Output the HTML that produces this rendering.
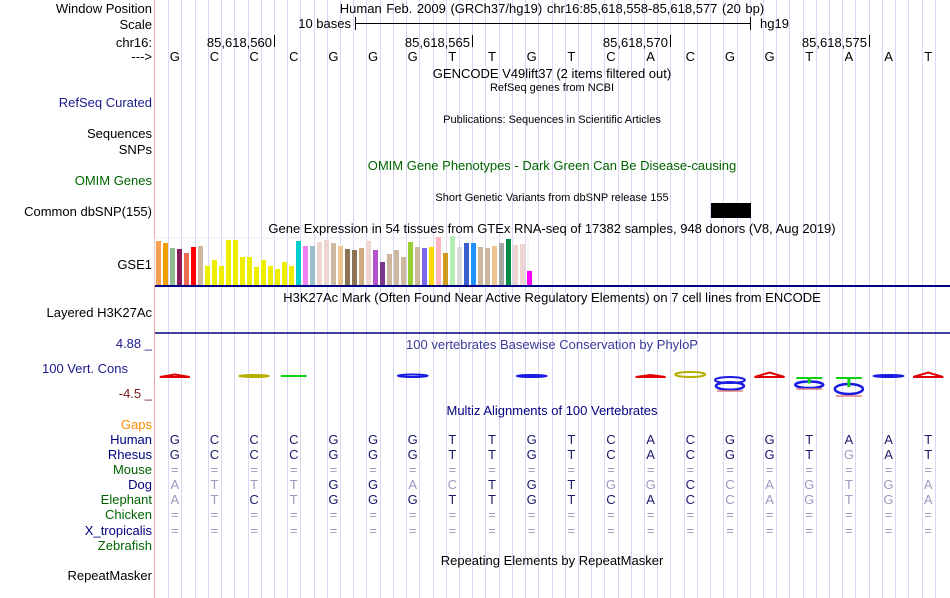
<!DOCTYPE html>
<html><head><meta charset="utf-8">
<style>
body{margin:0;background:#fff;}
svg{display:block;font-family:"Liberation Sans",sans-serif;}
</style></head>
<body>
<svg id="c" width="950" height="598" viewBox="0 0 950 598" xmlns="http://www.w3.org/2000/svg">
<g id="grid"></g>
<line x1="154.5" y1="0" x2="154.5" y2="598" stroke="#f4a6a6" stroke-width="1"/>
<g id="labels" font-size="13" text-anchor="end">
<text x="152" y="13" fill="#000">Window Position</text>
<text x="152" y="29" fill="#000">Scale</text>
<text x="152" y="47" fill="#000">chr16:</text>
<text x="152" y="61" fill="#000">---&gt;</text>
<text x="152" y="107" fill="#1a1a8c">RefSeq Curated</text>
<text x="152" y="138" fill="#000">Sequences</text>
<text x="152" y="154" fill="#000">SNPs</text>
<text x="152" y="185" fill="#006400">OMIM Genes</text>
<text x="152" y="216" fill="#000">Common dbSNP(155)</text>
<text x="152" y="269" fill="#000">GSE1</text>
<text x="152" y="317" fill="#000">Layered H3K27Ac</text>
<text x="152" y="348" fill="#1a1a8c">4.88 _</text>
<text x="128" y="373" fill="#1a1a8c">100 Vert. Cons</text>
<text x="152" y="398" fill="#7a1a1a">-4.5 _</text>
<text x="152" y="429" fill="#ff8c00">Gaps</text>
<text x="152" y="444" fill="#000080">Human</text>
<text x="152" y="459" fill="#000080">Rhesus</text>
<text x="152" y="474" fill="#006400">Mouse</text>
<text x="152" y="489" fill="#000080">Dog</text>
<text x="152" y="504" fill="#006400">Elephant</text>
<text x="152" y="519" fill="#006400">Chicken</text>
<text x="152" y="535" fill="#000080">X_tropicalis</text>
<text x="152" y="550" fill="#006400">Zebrafish</text>
<text x="152" y="580" fill="#000">RepeatMasker</text>
</g>
<g font-size="13" text-anchor="middle">
<text x="552" y="13" word-spacing="1">Human Feb. 2009 (GRCh37/hg19)   chr16:85,618,558-85,618,577 (20 bp)</text>
<text x="552" y="78">GENCODE V49lift37 (2 items filtered out)</text>
<text x="552" y="91" font-size="11">RefSeq genes from NCBI</text>
<text x="552" y="123" font-size="11">Publications: Sequences in Scientific Articles</text>
<text x="552" y="170" fill="#006400">OMIM Gene Phenotypes - Dark Green Can Be Disease-causing</text>
<text x="552" y="201" font-size="11">Short Genetic Variants from dbSNP release 155</text>
<text x="552" y="233">Gene Expression in 54 tissues from GTEx RNA-seq of 17382 samples, 948 donors (V8, Aug 2019)</text>
<text x="552" y="302">H3K27Ac Mark (Often Found Near Active Regulatory Elements) on 7 cell lines from ENCODE</text>
<text x="552" y="349" fill="#3a3a9c">100 vertebrates Basewise Conservation by PhyloP</text>
<text x="552" y="415" fill="#000080">Multiz Alignments of 100 Vertebrates</text>
<text x="552" y="565">Repeating Elements by RepeatMasker</text>
</g>
<g>
<text x="351" y="28" font-size="13" text-anchor="end">10 bases</text>
<line x1="355" y1="23.5" x2="750" y2="23.5" stroke="#000"/>
<line x1="355.5" y1="17" x2="355.5" y2="30" stroke="#000"/>
<line x1="750.5" y1="17" x2="750.5" y2="30" stroke="#000"/>
<text x="760" y="28" font-size="13">hg19</text>
</g>
<g id="ruler" font-size="13" text-anchor="end"></g>
<g id="bases" font-size="13" text-anchor="middle"></g>
<rect x="711" y="203" width="40" height="15" fill="#000"/>
<g id="gtex"></g>
<line x1="155" y1="286" x2="950" y2="286" stroke="#000080" stroke-width="2"/>
<line x1="155" y1="333" x2="950" y2="333" stroke="#000080" stroke-width="1.5"/>
<g id="cons"></g>
<g id="align" font-size="13" text-anchor="middle"></g>
</svg>
<script>
const NS="http://www.w3.org/2000/svg";
function mk(tag,parent,attrs){const e=document.createElementNS(NS,tag);for(const k in attrs)e.setAttribute(k,attrs[k]);parent.appendChild(e);return e;}
const refBases=["G","C","C","C","G","G","G","T","T","G","T","C","A","C","G","G","T","A","A","T"];
const rulerLabels=["85,618,560","85,618,565","85,618,570","85,618,575"];
const rulerIdx=[2,7,12,17];
const gtexValues=[132,126,111,108,96,114,117,57,75,57,135,135,84,84,54,75,57,48,69,57,132,117,117,129,135,126,117,108,105,111,132,105,69,93,105,84,129,114,111,114,144,96,147,114,126,126,114,111,117,126,138,120,123,42];
const gtexColors=["#f8a050","#f0a000","#8fbc8f","#8b1a5a","#ee6a50","#ff0000","#cdb79e","#eeee00","#eeee00","#eeee00","#eeee00","#eeee00","#eeee00","#eeee00","#eeee00","#eeee00","#eeee00","#eeee00","#eeee00","#eeee00","#00cdcd","#ee82ee","#9ac0cd","#eed5d2","#eed5d2","#cdb79e","#eec591","#8b7355","#8b7355","#cdaa7d","#eed5d2","#b452cd","#7a378b","#cdb79e","#cdb79e","#cdb79e","#9acd32","#cdb79e","#7b68ee","#ffd700","#ffb6c1","#cd9b1d","#b4eeb4","#d9d9d9","#3a5fcd","#1e90ff","#cdb79e","#cdb79e","#eec591","#a6a6a6","#008b45","#eed5d2","#eed5d2","#ff00ff"];
const species=[
 {seq:"GCCCGGGTTGTCACGGTAAT",gray:"",y:444},
 {seq:"GCCCGGGTTGTCACGGTGAT",gray:"00000000000000000100",y:459},
 {seq:"====================",gray:"",y:474,eq:1},
 {seq:"ATTTGGACTGTGGCCAGTGA",gray:"11110011000110111111",y:489},
 {seq:"ATCTGGGTTGTCACCAGTGA",gray:"11010000000000111111",y:504},
 {seq:"====================",gray:"",y:519,eq:1},
 {seq:"====================",gray:"",y:535,eq:1}
];
const consLetters=["A","","C","T","","","G","","","G","","","A","C","G","A","T","T","G","A"];
const consScores=[0.5,0,0.3,0.4,0,0,0.5,0,0,0.3,0,0,0.2,1.0,-3.0,0.9,-2.6,-4.0,0.2,0.9];
const consColors={A:"#e00000",C:"#b8b000",G:"#1a1ae0",T:"#10d010"};
const X0=155,W=(948-155)/20;
function bx(i){return X0+W*(i+0.5);}
const grid=document.getElementById('grid');
for(let k=1;k<60;k++){const x=Math.round(X0+W/3*k)+0.5;
 const l=mk('line',grid,{x1:x,y1:0,x2:x,y2:598,stroke:'#d8d8f4','stroke-width':1});
 
 }
const ruler=document.getElementById('ruler');
rulerLabels.forEach((t,j)=>{const x=Math.round(X0+W*(rulerIdx[j]+1));
 const tx=mk('text',ruler,{x:x-2,y:47});tx.textContent=t;
 
 
 const l=mk('line',ruler,{x1:x+0.5,y1:35,x2:x+0.5,y2:47,stroke:'#000'});
 
 });
const bases=document.getElementById('bases');
refBases.forEach((b,i)=>{const t=mk('text',bases,{x:bx(i),y:61});t.textContent=b;
 
 });
const gtex=document.getElementById('gtex');
mk('rect',gtex,{x:155,y:238,width:373,height:47,fill:'none',stroke:'#eee'});
const gBase=285,gScale=1/3,gStep=7.0;
gtexValues.forEach((v,i)=>{const h=v*gScale;
 const r=mk('rect',gtex,{x:156+i*gStep,y:gBase-h,width:5,height:h,fill:gtexColors[i]});
 
 });
const cons=document.getElementById('cons');
const zeroY=377,cScale=5;
consScores.forEach((s,i)=>{if(!s)return;const b=consLetters[i];const c=consColors[b];
 const h=Math.max(2,Math.abs(s)*cScale);const y=s>0?zeroY-h:zeroY;
 const g=mk('g',cons,{});
 
 
 const x=bx(i);
 if(s<0){
  mk('ellipse',g,{cx:x,cy:y+h*0.6,rx:14,ry:h*0.25,fill:'none',stroke:'#1a1ae0','stroke-width':2.5});
  mk('line',g,{x1:x-13,y1:y+h-1,x2:x+13,y2:y+h-1,stroke:'#e08080','stroke-width':1.5});
 }
 if(b==='A')mk('path',g,{d:`M${x-15} ${y+h} L${x} ${y} L${x+15} ${y+h} Z`,fill:'none',stroke:c,'stroke-width':2});
 else if(b==='T'){mk('line',g,{x1:x-13,y1:y+1,x2:x+13,y2:y+1,stroke:c,'stroke-width':2});mk('line',g,{x1:x,y1:y,x2:x,y2:y+(s<0?h*0.5:h),stroke:c,'stroke-width':3});}
 else mk('ellipse',g,{cx:x,cy:y+(s<0?h*0.2:h/2),rx:15,ry:Math.max(1,(s<0?h*0.2:h/2)),fill:'none',stroke:c,'stroke-width':2});
});
const align=document.getElementById('align');
species.forEach(sp=>{for(let i=0;i<20;i++){const ch=sp.seq[i];
 const gr=sp.eq||sp.gray[i]==='1';
 const t=mk('text',align,{x:bx(i),y:sp.y,fill:gr?'#9a9ac0':'#1a1a6c'});
 t.textContent=ch;
 
 }});
</script>
</body></html>
